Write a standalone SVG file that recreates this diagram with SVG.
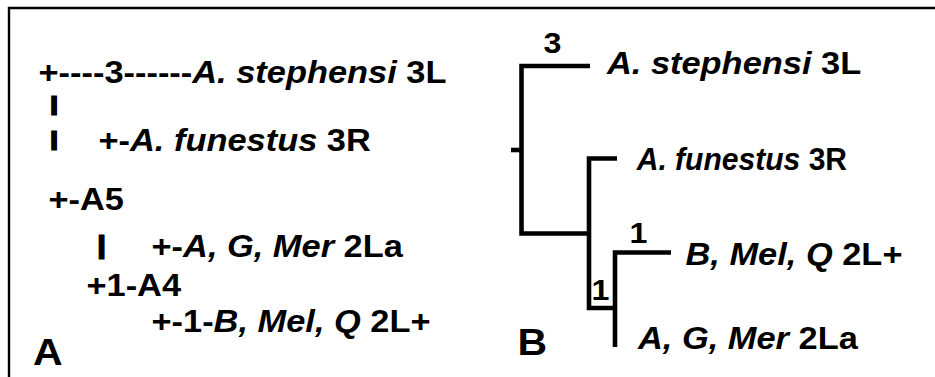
<svg xmlns="http://www.w3.org/2000/svg" width="935" height="377" viewBox="0 0 935 377">
  <style>
    .t { font-family: "Liberation Sans", Arial, sans-serif; font-weight: bold; font-size: 31px; fill: #000; }
    .i { font-style: italic; }
    .big { font-size: 37px; }
    .num { font-size: 29px; text-anchor: middle; }
    .bar { stroke: #000; stroke-width: 1.3; }
    .edge { fill: none; stroke: #000; stroke-width: 4.6; stroke-linejoin: miter; stroke-linecap: butt; }
  </style>
  <rect width="935" height="377" fill="#fff"/>
  <!-- frame: left and top rules -->
  <path d="M9,377 V8 H935" fill="none" stroke="#000" stroke-width="2.4"/>

  <!-- Panel A: text-drawn tree (glyphs widened 1.11x) -->
  <g id="panel-a" transform="scale(1.11,1)">
    <text class="t" x="34.7" y="83">+----3------<tspan class="i">A. stephensi</tspan> 3L</text>
    <text class="t bar" transform="translate(44.3,110.8) scale(1,0.65)">|</text>
    <text class="t bar" transform="translate(44.3,145.8) scale(1,0.65)">|</text>
    <text class="t" x="88.7" y="151">+-<tspan class="i">A. funestus</tspan> 3R</text>
    <text class="t" x="43.7" y="210">+-A5</text>
    <text class="t bar" transform="translate(87.1,254.4) scale(1,0.86)">|</text>
    <text class="t" x="136.5" y="257">+-<tspan class="i">A, G, Mer</tspan> 2La</text>
    <text class="t" x="77.9" y="296">+1-A4</text>
    <text class="t" x="136.5" y="332">+-1-<tspan class="i">B, Mel, Q</tspan> 2L+</text>
    <text class="t big" x="29.7" y="365">A</text>
  </g>

  <!-- Panel B: drawn tree -->
  <g id="connectors">
    <path class="edge" d="M511,150 H521.5"/>
    <path class="edge" d="M590,66 H521.5 V233.5 H589"/>
    <path class="edge" d="M617,158.5 H589 V308 H615"/>
    <path class="edge" d="M671,252.5 H615 V347"/>
  </g>
  <g id="panel-b-labels" transform="scale(1.11,1)">
    <g id="leaf-stephensi"><text class="t" x="546.8" y="74"><tspan class="i">A. stephensi</tspan> 3L</text></g>
    <g id="leaf-2Lplus"><text class="t" x="617.6" y="265"><tspan class="i">B, Mel, Q</tspan> 2L+</text></g>
    <g id="leaf-2La"><text class="t" x="574.8" y="349"><tspan class="i">A, G, Mer</tspan> 2La</text></g>
    <g id="support-3"><text class="t num" x="497.7" y="53">3</text></g>
    <g id="support-1a"><text class="t num" x="575.2" y="243">1</text></g>
    <g id="support-1b"><text class="t num" x="541" y="300">1</text></g>
    <text class="t big" x="466.2" y="355">B</text>
  </g>
  <!-- this leaf label is set narrower than the others -->
  <g id="leaf-funestus" transform="scale(0.97,1)">
    <text class="t" x="656.4" y="170"><tspan class="i">A. funestus</tspan> 3R</text>
  </g>
</svg>
